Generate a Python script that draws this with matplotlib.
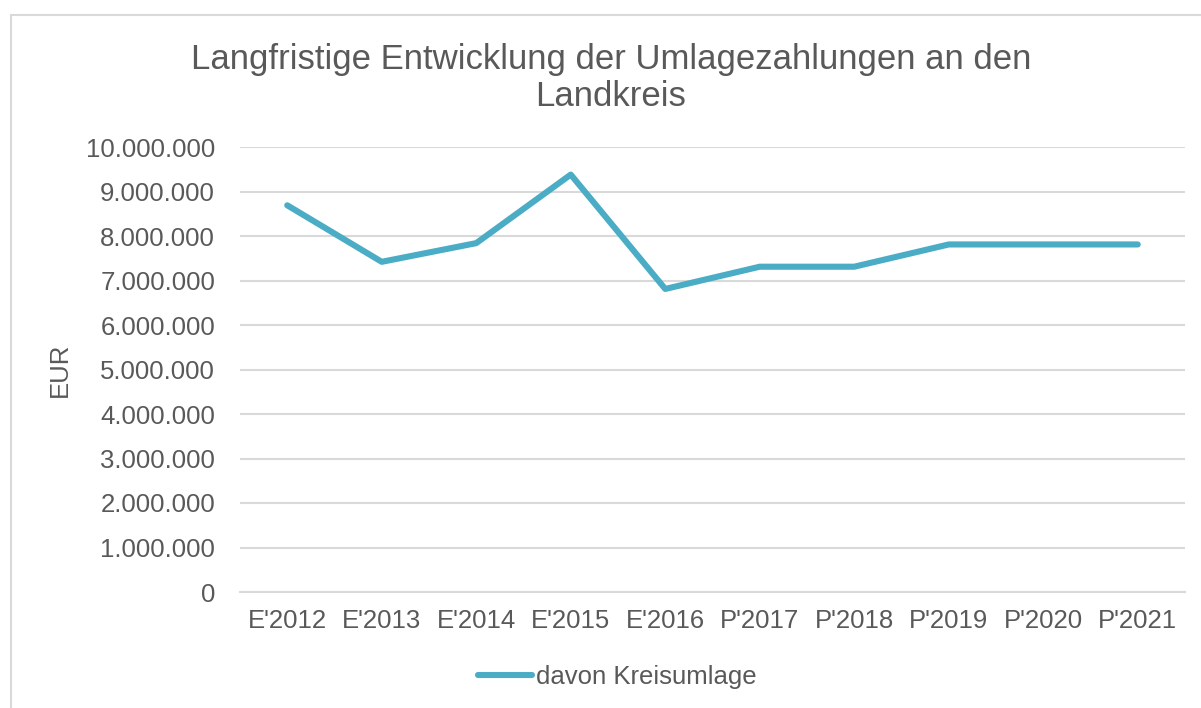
import matplotlib
matplotlib.use("Agg")
import matplotlib.pyplot as plt
from matplotlib.ticker import FuncFormatter, MultipleLocator
from matplotlib.patches import Rectangle

plt.rcParams["font.family"] = ["Liberation Sans", "DejaVu Sans"]

jahre = ["E'2012", "E'2013", "E'2014", "E'2015", "E'2016",
         "P'2017", "P'2018", "P'2019", "P'2020", "P'2021"]
kreisumlage = [8690000, 7420000, 7840000, 9380000, 6810000,
               7310000, 7310000, 7810000, 7810000, 7810000]

W, H = 1201, 708
text_col = "#595959"
grid_col = "#D9D9D9"
line_col = "#4BACC6"

fig = plt.figure(figsize=(W / 100, H / 100), dpi=100)
fig.patch.set_facecolor("white")

# light chart border (right and bottom edge run off the canvas)
fig.patches.append(Rectangle((10.5 / W, -0.2), 1.2, (H - 14.5) / H + 0.2,
                             transform=fig.transFigure, fill=False,
                             edgecolor=grid_col, linewidth=1.5))

ax = fig.add_axes([240 / W, (H - 592) / H, (1185 - 240) / W, (592 - 147) / H])
x = range(len(jahre))
ax.plot(x, kreisumlage, color=line_col, linewidth=4.4,
        solid_capstyle="round", solid_joinstyle="round",
        label="davon Kreisumlage", zorder=3)

ax.set_xlim(-0.5, len(jahre) - 0.5)
ax.set_ylim(0, 10000000)
ax.yaxis.set_major_locator(MultipleLocator(1000000))
ax.yaxis.set_major_formatter(FuncFormatter(lambda v, p: f"{int(v):,}".replace(",", ".")))
ax.set_xticks(list(x))
ax.set_xticklabels(jahre)
ax.grid(axis="y", color=grid_col, linewidth=1.5)
ax.set_axisbelow(True)
for s in ["top", "right", "left"]:
    ax.spines[s].set_visible(False)
ax.spines["bottom"].set_color(grid_col)
ax.spines["bottom"].set_linewidth(1.5)
ax.tick_params(axis="both", length=0, labelsize=18.5, colors=text_col)
ax.tick_params(axis="y", pad=18)
ax.tick_params(axis="x", pad=12)

fig.text(60 / W, 0.5 * ((H - 592) + (H - 147)) / H, "EUR", rotation=90,
         ha="center", va="center", fontsize=18.5, color=text_col)

fig.text(611 / W, (H - 78) / H,
         "Langfristige Entwicklung der Umlagezahlungen an den\nLandkreis",
         ha="center", va="center", fontsize=25, color=text_col, linespacing=1.18)

leg = ax.legend(loc="center", bbox_to_anchor=(617 / W, (H - 677) / H),
                bbox_transform=fig.transFigure, frameon=False,
                fontsize=18.5, handlelength=2.1, handletextpad=0.15)
for t in leg.get_texts():
    t.set_color(text_col)

fig.savefig("out.png", dpi=100)
